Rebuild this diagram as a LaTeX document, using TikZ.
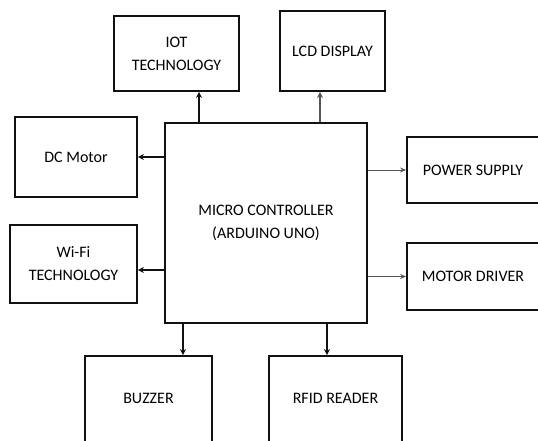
\documentclass[tikz,border=0pt]{standalone}
\usepackage{fontspec}
\setmainfont{Carlito}
\usetikzlibrary{arrows.meta}
\definecolor{cline}{HTML}{111111}
\definecolor{cgrey}{HTML}{555555}
\tikzset{
  every picture/.style={line width=1.8pt},
  box/.style={draw=cline, align=center, inner sep=2pt, font=\fontsize{16}{23}\selectfont},
  arrow/.style={-{Stealth[length=6pt, width=6pt]}, draw=cline, line width=1.8pt},
  thinarrow/.style={-{Stealth[length=6pt, width=5pt]}, draw=cgrey, line width=0.9pt},
}

\begin{document}
\begin{tikzpicture}[x=1pt, y=-1pt]
  \useasboundingbox (0,0) rectangle (538,441);
  \clip (0,0) rectangle (538,441);
  \node[box, minimum width=202pt, minimum height=200pt] (mcu) at (266,223) {MICRO CONTROLLER\\(ARDUINO UNO)};
  \foreach \x/\y/\w/\h/\n/\t in {176.5/53.5/125/75/iot/{IOT\\TECHNOLOGY}, 332.5/51/105/80/lcd/{LCD DISPLAY},
      76/157/122/80/dc/{DC Motor}, 73.5/264/127/78/wifi/{Wi-Fi\\TECHNOLOGY},
      473/170/132/66/power/{POWER SUPPLY}, 473/276.5/132/67/driver/{MOTOR DRIVER}} {
    \node[box, minimum width=\w pt, minimum height=\h pt] (\n) at (\x,\y) {\t};
  }
  % bottom boxes run off the page
  \node[box, minimum width=127pt, minimum height=104pt, text depth=20pt] (buzzer) at (148.5,408) {BUZZER};
  \node[box, minimum width=133pt, minimum height=104pt, text depth=20pt] (rfid) at (335.5,408) {RFID READER};
  % outputs of the controller
  \draw[arrow] ([xshift=22.5pt]iot.south |- mcu.north) -- ([xshift=22.5pt]iot.south);
  \draw[arrow, draw=cgrey] ([xshift=-12.5pt]lcd.south |- mcu.north) -- ([xshift=-12.5pt]lcd.south);
  \draw[arrow] (mcu.west |- dc) -- (dc.east);
  \draw[arrow] ([yshift=-6pt]mcu.west |- wifi) -- ([yshift=-6pt]wifi.east);
  \draw[thinarrow] (mcu.east |- power) -- (power.west);
  \draw[thinarrow] (mcu.east |- driver) -- (driver.west);
  \draw[arrow] ([xshift=34.5pt]buzzer.north |- mcu.south) -- ([xshift=34.5pt]buzzer.north);
  \draw[arrow] ([xshift=-8.5pt]rfid.north |- mcu.south) -- ([xshift=-8.5pt]rfid.north);
\end{tikzpicture}
\end{document}
